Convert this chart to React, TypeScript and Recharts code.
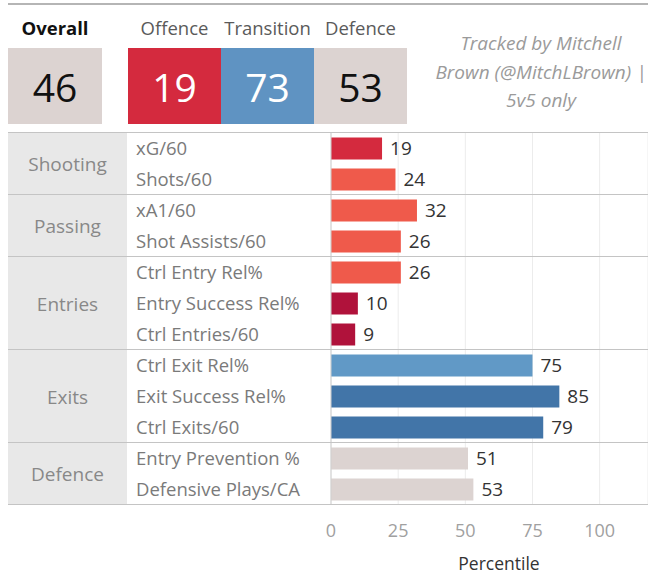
import { BarChart, Bar, XAxis, YAxis, CartesianGrid, Cell, LabelList, ReferenceLine } from 'recharts';

const groups = ['Shooting', 'Passing', 'Entries', 'Exits', 'Defence'];
const groupSizes = [2, 2, 3, 3, 2];

const metrics = [
  'xG/60', 'Shots/60',
  'xA1/60', 'Shot Assists/60',
  'Ctrl Entry Rel%', 'Entry Success Rel%', 'Ctrl Entries/60',
  'Ctrl Exit Rel%', 'Exit Success Rel%', 'Ctrl Exits/60',
  'Entry Prevention %', 'Defensive Plays/CA',
];
const percentiles = [19, 24, 32, 26, 26, 10, 9, 75, 85, 79, 51, 53];

const summaryLabels = ['Offence', 'Transition', 'Defence'];
const summaryValues = [19, 73, 53];
const overallValue = 46;
const xTicks = [0, 25, 50, 75, 100];

// colour per bar (tableau-ish diverging palette)
const barColors = [
  '#d42a3e', '#ef5a4b',
  '#ef5a4b', '#ef5a4b',
  '#ef5a4b', '#b0123b', '#b0123b',
  '#6199c6', '#4275a8', '#4275a8',
  '#dcd3d1', '#dcd3d1',
];
const summaryColors = ['#d42a3e', '#5f93c2', '#dcd3d1'];
const summaryText = ['#fff', '#fff', '#111'];

const data = metrics.map((name, i) => ({ name, value: percentiles[i] }));

const FONT = '"Open Sans", sans-serif';
const LEFT = 8;
const TOP = 133;
const WIDTH = 640;
const PLOT_H = 372;
const AXIS_H = 60;
const LABEL_W = 323;
const rowH = PLOT_H / metrics.length;
const BOX_W = 93;

const MetricTick = (props: any) => {
  const { y, payload } = props;
  return (
    <text x={128} y={y} dy={6} textAnchor="start" fontSize={18.5} fill="#7a7a7a" fontFamily={FONT}>
      {payload.value}
    </text>
  );
};

export default function App() {
  let acc = 0;
  const groupRows = groups.map((g, i) => {
    const start = acc;
    acc += groupSizes[i];
    return { name: g, start, end: acc };
  });

  return (
    <div style={{ position: 'absolute', left: 0, top: 0, width: 657, height: 577, background: '#fff', fontFamily: FONT, overflow: 'hidden' }}>
      <div style={{ position: 'absolute', left: LEFT, top: 3, width: WIDTH, height: 2, background: '#b5b5b5' }} />

      {/* summary header */}
      <div style={{ position: 'absolute', left: 8, top: 15, width: 94, textAlign: 'center', fontSize: 18.5, fontWeight: 700, color: '#111' }}>Overall</div>
      <div style={{ position: 'absolute', left: 8, top: 48, width: 94, height: 76, background: '#dcd3d1', display: 'flex', alignItems: 'center', justifyContent: 'center', fontSize: 39, color: '#111' }}>
        {overallValue}
      </div>
      {summaryLabels.map((s, i) => (
        <div key={s}>
          <div style={{ position: 'absolute', left: 128 + i * BOX_W, top: 15, width: BOX_W, textAlign: 'center', fontSize: 18.5, color: '#5a5a5a' }}>{s}</div>
          <div style={{ position: 'absolute', left: 128 + i * BOX_W, top: 48, width: BOX_W, height: 76, background: summaryColors[i], display: 'flex', alignItems: 'center', justifyContent: 'center', fontSize: 39, color: summaryText[i] }}>
            {summaryValues[i]}
          </div>
        </div>
      ))}
      <div style={{ position: 'absolute', left: 421, top: 29, width: 240, textAlign: 'center', fontSize: 19, fontStyle: 'italic', color: '#9a9a9a', lineHeight: '28.5px' }}>
        Tracked by Mitchell<br />Brown (@MitchLBrown) |<br />5v5 only
      </div>

      {/* group column */}
      <div style={{ position: 'absolute', left: LEFT, top: TOP, width: 119, height: PLOT_H, background: '#e8e8e8' }} />
      {groupRows.map((g) => (
        <div key={g.name} style={{ position: 'absolute', left: LEFT, top: TOP + g.start * rowH, width: 119, height: (g.end - g.start) * rowH, display: 'flex', alignItems: 'center', justifyContent: 'center', fontSize: 19, color: '#888' }}>
          {g.name}
        </div>
      ))}

      <div style={{ position: 'absolute', left: LEFT, top: TOP }}>
        <BarChart width={WIDTH} height={PLOT_H + AXIS_H} data={data} layout="vertical" margin={{ top: 0, right: 0, bottom: 0, left: 0 }} barCategoryGap={4.5}>
          <CartesianGrid vertical horizontal={false} stroke="#ececec" />
          <XAxis
            type="number"
            domain={[0, 118]}
            ticks={xTicks}
            axisLine={false}
            tickLine={false}
            height={AXIS_H}
            tick={{ fontSize: 18, fill: '#a0a0a0', fontFamily: FONT }}
            dy={11}
          />
          <YAxis type="category" dataKey="name" width={LABEL_W} axisLine={false} tickLine={false} tick={<MetricTick />} interval={0} />
          <ReferenceLine x={0} stroke="#cfcfcf" />
          <Bar dataKey="value" isAnimationActive={false}>
            {data.map((d, i) => (
              <Cell key={d.name} fill={barColors[i]} />
            ))}
            <LabelList dataKey="value" position="right" offset={8} fontSize={19} fill="#333" fontFamily={FONT} />
          </Bar>
        </BarChart>
      </div>

      <div style={{ position: 'absolute', left: 449, top: 553, width: 100, textAlign: 'center', fontSize: 17.5, lineHeight: '20px', color: '#333' }}>
        Percentile
      </div>

      {/* row group separators */}
      {[0, ...groupRows.map((g) => g.end)].map((r) => (
        <div key={r} style={{ position: 'absolute', left: LEFT, top: TOP + r * rowH - 1, width: WIDTH, height: 1, background: '#c4c4c4' }} />
      ))}
    </div>
  );
}
